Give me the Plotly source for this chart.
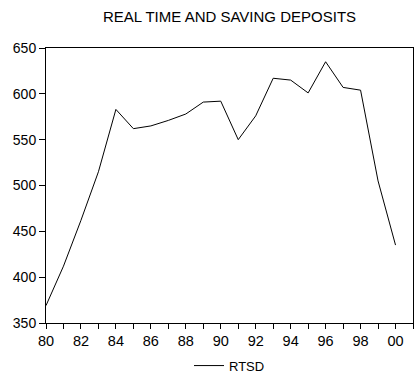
import plotly.graph_objects as go

years = list(range(1980, 2001))
rtsd = [369, 412, 462, 515, 583, 562, 565, 571, 578, 591, 592,
        550, 576, 617, 615, 601, 635, 607, 604, 505, 435]

tick_years = list(range(1980, 2001, 2))
tick_labels = ["80", "82", "84", "86", "88", "90", "92", "94", "96", "98", "00"]
y_ticks = [350, 400, 450, 500, 550, 600, 650]

fig = go.Figure()
fig.add_trace(go.Scatter(x=years, y=rtsd, mode="lines", name="RTSD",
                         line=dict(color="black", width=1)))

fig.update_layout(
    width=416, height=384,
    margin=dict(l=46, r=3, t=48, b=59),
    paper_bgcolor="white", plot_bgcolor="white",
    font=dict(family="Liberation Sans, Arial", size=13, color="black"),
    title=dict(text="REAL TIME AND SAVING DEPOSITS", x=0.5, xref="paper",
               xanchor="center", y=0.956, yanchor="middle",
               font=dict(size=15)),
    showlegend=True,
    legend=dict(orientation="h", x=0.5, xanchor="center", xref="paper",
                y=-0.155, yanchor="middle", font=dict(size=13)),
    xaxis=dict(range=[1980, 2001], tickvals=tick_years, ticktext=tick_labels,
               ticks="outside", ticklen=5, tickcolor="black",
               minor=dict(dtick=1, tick0=1980, ticks="outside", ticklen=5, tickcolor="black"),
               showline=True, linecolor="black", linewidth=1, mirror=True,
               showgrid=False, zeroline=False, tickfont=dict(size=14.5)),
    yaxis=dict(range=[350, 650], tickvals=y_ticks,
               ticks="outside", ticklen=6, tickcolor="black",
               showline=True, linecolor="black", linewidth=1, mirror=True,
               showgrid=False, zeroline=False, tickfont=dict(size=14)),
)

# page body has an 8px default margin; drop it so the chart sits at 0,0
fig.write_html("out.html", config={"displayModeBar": False},
               post_script="document.body.style.margin='0';")
